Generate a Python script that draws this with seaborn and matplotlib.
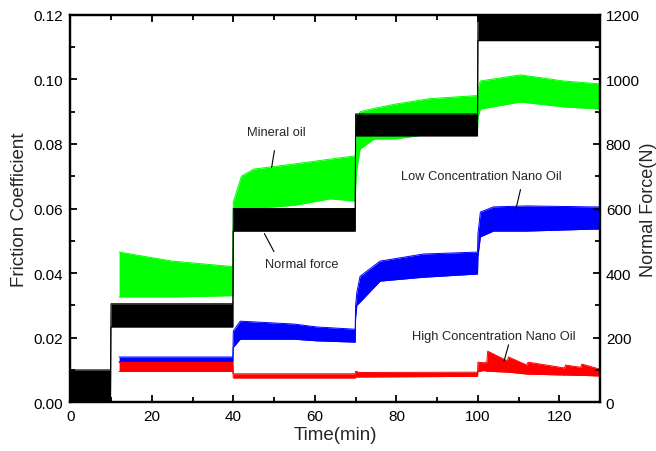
import seaborn as sns
import matplotlib
matplotlib.use("Agg")
from matplotlib import pyplot as plt
from matplotlib.ticker import MultipleLocator

# Normal force (N), right axis: lower / upper edge of the noisy trace
force_t = [0, 9.9, 10.0, 39.9, 40.0, 69.9, 70.0, 99.9, 100.0, 130]
force_lo = [5, 5, 233, 233, 530, 530, 825, 825, 1120, 1120]
force_hi = [100, 100, 305, 305, 600, 600, 893, 893, 1198, 1198]

# Mineral oil friction coefficient
mineral_t = [12, 25, 39.9, 40.0, 42, 45, 55, 63.8, 69.9, 70.0, 70.2, 71.1, 74.5, 80, 88, 99.9,
             100.0, 100.6, 110.4, 121, 130]
mineral_lo = [0.0326, 0.0326, 0.033, 0.054, 0.058, 0.060, 0.061, 0.063, 0.0623, 0.066, 0.0713, 0.0784,
              0.0815, 0.0816, 0.083, 0.084, 0.088, 0.0908, 0.093, 0.0915, 0.0908]
mineral_hi = [0.0465, 0.0437, 0.042, 0.062, 0.070, 0.0722, 0.0738, 0.0753, 0.0763, 0.080, 0.086, 0.090,
              0.091, 0.0924, 0.094, 0.095, 0.097, 0.0995, 0.1014, 0.0995, 0.0986]

# Low concentration nano oil
low_t = [12, 39.9, 40.0, 41.7, 55, 60.5, 69.9, 70.0, 70.3, 71.1, 76, 86.6, 99.9,
         100.0, 100.6, 103.8, 112, 128, 130]
low_lo = [0.0125, 0.0125, 0.017, 0.0195, 0.0195, 0.019, 0.0186, 0.026, 0.030, 0.031, 0.0375, 0.0387, 0.0397,
          0.045, 0.0512, 0.053, 0.053, 0.0536, 0.0536]
low_hi = [0.014, 0.014, 0.022, 0.0251, 0.0242, 0.0233, 0.0226, 0.030, 0.034, 0.039, 0.0437, 0.0459, 0.0465,
          0.052, 0.0589, 0.0605, 0.0608, 0.0605, 0.0605]

# High concentration nano oil
high_t = [12, 39.9, 40.0, 69.9, 70.0, 71, 99.9, 100.0, 101.5, 102.2, 102.4, 107.2, 107.5,
          112.0, 112.3, 121.2, 121.5, 125.2, 125.5, 130]
high_lo = [0.0095, 0.0095, 0.0075, 0.0075, 0.0078, 0.0078, 0.0080, 0.0095, 0.0098, 0.0096, 0.0096,
           0.0093, 0.0093, 0.0087, 0.0087, 0.0084, 0.0084, 0.0083, 0.0083, 0.0081]
high_hi = [0.0123, 0.0123, 0.0088, 0.0088, 0.0096, 0.0092, 0.0093, 0.0124, 0.0122, 0.0125, 0.0158,
           0.0128, 0.014, 0.0115, 0.0124, 0.0106, 0.0115, 0.0108, 0.0118, 0.0102]


def band(ax, t, lo, hi, color):
    ax.fill_between(t, lo, hi, color=color, linewidth=0)
    sns.lineplot(x=t, y=lo, ax=ax, color=color, lw=0.7, sort=False, estimator=None)
    sns.lineplot(x=t, y=hi, ax=ax, color=color, lw=0.7, sort=False, estimator=None)


def main():
    sns.set_style("ticks")
    plt.rcParams["font.family"] = ["Liberation Sans", "DejaVu Sans"]

    fig = plt.figure(figsize=(6.56, 4.52), dpi=100)
    ax = fig.add_axes([0.107, 0.108, 0.808, 0.857])
    ax2 = ax.twinx()

    band(ax, mineral_t, mineral_lo, mineral_hi, "#00ff00")
    band(ax, low_t, low_lo, low_hi, "#0000ff")
    band(ax, high_t, high_lo, high_hi, "#ff0000")
    band(ax2, force_t, force_lo, force_hi, "black")

    ax.set_xlim(0, 130)
    ax.set_ylim(0, 0.12)
    ax2.set_ylim(0, 1200)

    ax.xaxis.set_major_locator(MultipleLocator(20))
    ax.xaxis.set_minor_locator(MultipleLocator(10))
    ax.yaxis.set_major_locator(MultipleLocator(0.02))
    ax.yaxis.set_minor_locator(MultipleLocator(0.01))
    ax.yaxis.set_major_formatter(matplotlib.ticker.FormatStrFormatter("%.2f"))
    ax2.yaxis.set_major_locator(MultipleLocator(200))
    ax2.yaxis.set_minor_locator(MultipleLocator(100))

    for a in (ax, ax2):
        for s in a.spines.values():
            s.set_visible(True)
            s.set_linewidth(1.6)
            s.set_color("black")
    ax.tick_params(which="both", direction="in", top=True, right=False, width=1.3,
                   labelsize=11, pad=5, colors="black")
    ax.tick_params(which="major", length=5)
    ax.tick_params(which="minor", length=3.5)
    ax2.tick_params(which="both", direction="in", width=1.3, labelsize=11, pad=4, colors="black")
    ax2.tick_params(which="major", length=5)
    ax2.tick_params(which="minor", length=3.5)

    ax.set_xlabel("Time(min)", fontsize=13.5, labelpad=2)
    ax.set_ylabel("Friction Coefficient", fontsize=13.5, labelpad=4)
    ax2.set_ylabel("Normal Force(N)", fontsize=13, labelpad=0)

    notes = [
        ("Mineral oil", (50.5, 0.0837), (50.2, 0.0788), (49.3, 0.0719)),
        ("Normal force", (56.9, 0.0428), (50.3, 0.0459), (47.3, 0.053)),
        ("Low Concentration Nano Oil", (100.8, 0.0701), (110.6, 0.0667), (109.2, 0.0592)),
        ("High Concentration Nano Oil", (104.0, 0.0205), (107.7, 0.0186), (106.2, 0.0118)),
    ]
    for text, pos, p0, p1 in notes:
        ax.text(pos[0], pos[1], text, fontsize=9.3, ha="center", va="center", zorder=6)
        ax.annotate("", xy=p1, xytext=p0,
                    arrowprops=dict(arrowstyle="-", lw=0.8, color="black"), zorder=6)

    fig.savefig("out.png", dpi=100)


main()
